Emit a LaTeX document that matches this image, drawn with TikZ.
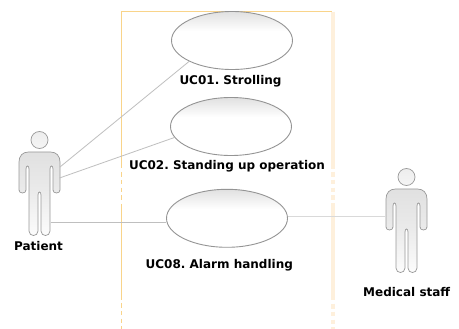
\documentclass[tikz,border=0pt]{standalone}
\usetikzlibrary{shapes.geometric}
\usepackage{fontspec}
\setmainfont{DejaVu Sans}
\definecolor{sysc}{HTML}{F9D48A}
\definecolor{shadc}{HTML}{FEF0DC}
\pgfdeclareverticalshading{ucfill}{100bp}{color(0bp)=(white);color(58bp)=(white);color(75bp)=(black!12);color(100bp)=(black!12)}
\pgfdeclareverticalshading{actorfill}{100bp}{color(0bp)=(black!1);color(25bp)=(black!1);color(52bp)=(black!8);color(75bp)=(black!12);color(100bp)=(black!12)}
\pgfdeclareverticalshading{headfill}{100bp}{color(0bp)=(black!4);color(25bp)=(black!4);color(75bp)=(black!7);color(100bp)=(black!7)}
\tikzset{
  usecase/.style={draw=black!42,line width=0.9pt,ellipse,shading=ucfill,inner sep=0pt,minimum width=121pt,minimum height=58pt},
  uclabel/.style={font=\frenchspacing\bfseries\fontsize{12pt}{14pt}\selectfont,text=black,inner sep=0pt},
  link/.style={draw=black!25,line width=0.8pt},
  lightlink/.style={draw=black!15,line width=0.9pt},
  sysline/.style={draw=sysc,line width=1pt},
  sysshadow/.style={draw=shadc,line width=3.8pt},
  sysdash/.style={dash pattern=on 4.6pt off 3.2pt},
  actorline/.style={draw=black!40,line width=0.7pt,shading=actorfill},
  actorhead/.style={draw=black!40,line width=0.7pt,shading=headfill},
}
\newcommand{\actorfig}[3]{%
  \coordinate (#3) at (#1,#2);
  \begin{scope}[shift={(#1,#2)}]
    \path[actorhead] (0,-12) circle (8.5);
    \path[actorline] (-11,0) -- (11,0) .. controls (17,0) and (20.5,4) .. (20.5,10)
      -- (20.5,38) .. controls (20.5,42) and (13.5,42) .. (13.5,38)
      -- (13.5,17) .. controls (13.5,13) and (10.5,13) .. (10.5,17)
      -- (10.5,79) .. controls (10.5,85) and (1.5,85) .. (1.5,79)
      -- (1.5,43) .. controls (1.5,39) and (-1.5,39) .. (-1.5,43)
      -- (-1.5,79) .. controls (-1.5,85) and (-10.5,85) .. (-10.5,79)
      -- (-10.5,17) .. controls (-10.5,13) and (-13.5,13) .. (-13.5,17)
      -- (-13.5,38) .. controls (-13.5,42) and (-20.5,42) .. (-20.5,38)
      -- (-20.5,10) .. controls (-20.5,4) and (-17,0) .. (-11,0) -- cycle;
  \end{scope}}
\begin{document}
\begin{tikzpicture}[x=1pt,y=-1pt]
\useasboundingbox (0,0) rectangle (459,329);
\fill[white] (0,0) rectangle (459,329);
% system boundary
\draw[sysshadow] (333,12) -- (333,169);
\draw[sysshadow,sysdash] (333,172) -- (333,204);
\draw[sysshadow] (333,204) -- (333,300);
\draw[sysshadow,sysdash] (333,304) -- (333,329);
\draw[sysline] (121.5,168) -- (121.5,11.5) -- (332,11.5);
\draw[sysline,sysdash] (121.5,172) -- (121.5,203);
\draw[sysline] (121.5,204) -- (121.5,300);
\draw[sysline,sysdash] (121.5,303) -- (121.5,329);
% actors
\actorfig{39.5}{152}{patient}
\actorfig{406.5}{189}{staff}
\coordinate (p1) at ([shift={(20.5,15)}]patient);
\coordinate (p2) at ([shift={(20,26)}]patient);
\coordinate (p3) at ([shift={(11,70.3)}]patient);
\coordinate (s1) at ([shift={(-20.5,27.7)}]staff);
% use cases
\node[usecase] (uc1) at (232,40.5) {};
\node[usecase] (uc2) at (231,126.5) {};
\node[usecase] (uc8) at (227,218.3) {};
% connectors
\draw[link] (p1) -- (uc1.206);
\draw[link] (p2) -- (uc2.191);
\draw[link] (p3) -- (uc8.west |- p3);
\draw[lightlink] (uc8.east |- s1) -- (s1);
% labels
\node[uclabel] (l1) at (230.5,81) {UC01. Strolling};
\node[uclabel] (l2) at (227,166) {UC02. Standing up operation};
\node[uclabel] (l8) at (219.3,265) {UC08. Alarm handling};
\node[uclabel] (la) at (38.5,246.5) {Patient};
\node[uclabel] (ls) at (406.7,292.5) {Medical staff};
\end{tikzpicture}
\end{document}
